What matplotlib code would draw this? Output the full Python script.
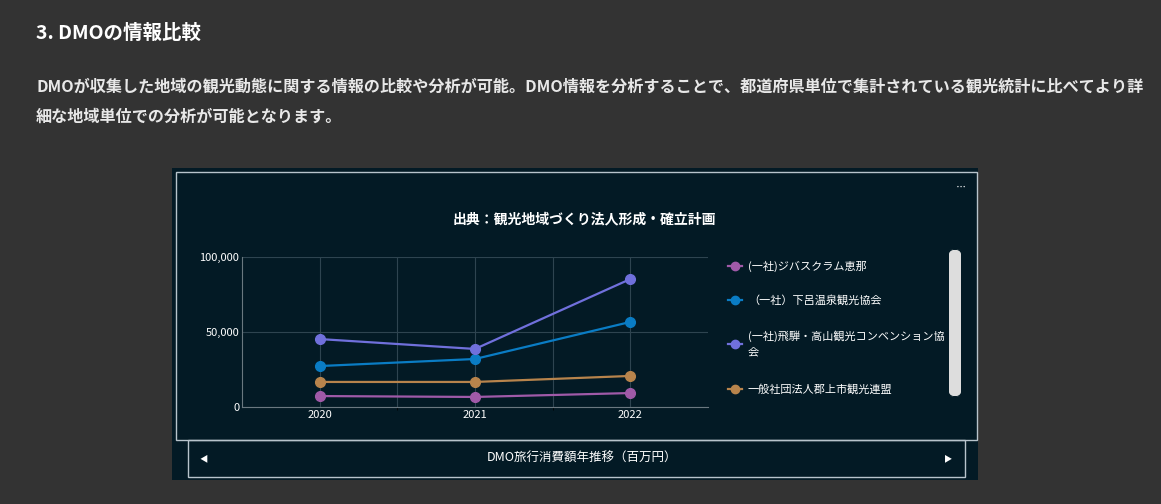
import matplotlib.pyplot as plt
from matplotlib.patches import Rectangle, FancyBboxPatch

plt.rcParams["font.family"] = ["Noto Sans CJK JP", "DejaVu Sans"]

years = ["2020", "2021", "2022"]
series_names = ["(一社)ジバスクラム恵那", "（一社）下呂温泉観光協会",
                "(一社)飛騨・高山観光コンベンション協\n会", "一般社団法人郡上市観光連盟"]
ena = [7300, 6700, 9300]
gero = [27300, 32000, 56700]
takayama = [45300, 38700, 85300]
gujo = [16700, 16700, 20700]
colors = ["#a05aa8", "#0a7cc4", "#7070dc", "#b8844c"]
yticks = [0, 50000, 100000]

W, H = 1161, 504
fig = plt.figure(figsize=(W / 100, H / 100), dpi=100)
fig.patch.set_facecolor("#333333")


def px(x, y, w, h):
    return [x / W, 1 - (y + h) / H, w / W, h / H]


def box(x, y, w, h, **kw):
    fig.patches.append(Rectangle((x / W, 1 - (y + h) / H), w / W, h / H,
                                 transform=fig.transFigure, zorder=-1, **kw))


fig.text(36 / W, 1 - 33 / H, "3. DMOの情報比較", color="white", fontsize=14,
         fontweight="bold", va="center")
fig.text(36 / W, 1 - 87 / H,
         "DMOが収集した地域の観光動態に関する情報の比較や分析が可能。DMO情報を分析することで、都道府県単位で集計されている観光統計に比べてより詳",
         color="#e8e8e8", fontsize=11.6, fontweight="bold", va="center")
fig.text(36 / W, 1 - 117 / H, "細な地域単位での分析が可能となります。",
         color="#e8e8e8", fontsize=11.6, fontweight="bold", va="center")

box(172, 168, 806, 312, facecolor="#031a25", edgecolor="none")
box(176, 172, 801, 268, facecolor="none", edgecolor="#b8c4cc", lw=1)
box(188, 440, 777, 37, facecolor="none", edgecolor="#b8c4cc", lw=1)
fig.text(582 / W, 1 - 458 / H, "DMO旅行消費額年推移（百万円）", color="white",
         fontsize=9, ha="center", va="center")
fig.text(204 / W, 1 - 459 / H, "◀", color="white", fontsize=6, ha="center", va="center")
fig.text(948 / W, 1 - 459 / H, "▶", color="white", fontsize=6, ha="center", va="center")
fig.text(961 / W, 1 - 186 / H, "• • •", color="white", fontsize=4, ha="center", va="center")
fig.text(584 / W, 1 - 219 / H, "出典：観光地域づくり法人形成・確立計画", color="white",
         fontsize=10, fontweight="bold", ha="center", va="center")

# scrollbar
fig.patches.append(FancyBboxPatch((949 / W, 1 - 397 / H), 12 / W, 148 / H,
                                  boxstyle="round,pad=0,rounding_size=0.01",
                                  transform=fig.transFigure, facecolor="#dddddd",
                                  edgecolor="none"))

ax = fig.add_axes(px(242, 257, 466, 150))
ax.set_zorder(5)
ax.set_facecolor("#031a25")
x = range(len(years))
for vals, c in zip([ena, gero, takayama, gujo], colors):
    ax.plot(x, vals, color=c, lw=1.6, marker="o", ms=7)
ax.set_xlim(-0.5, 2.5)
ax.set_ylim(0, 100000)
ax.set_xticks(list(x), years)
ax.set_yticks(yticks, [f"{v:,}" for v in yticks])
ax.set_xticks([0.5, 1.5], minor=True)
ax.tick_params(colors="white", labelsize=8, length=0, pad=2)
ax.grid(True, which="both", color="#2e4450", lw=0.8)
for s in ["top", "right"]:
    ax.spines[s].set_visible(False)
for s in ["left", "bottom"]:
    ax.spines[s].set_color("#6a7880")

leg_y = [266, 300, 344, 389]
for name, c, yy in zip(series_names, colors, leg_y):
    fig.lines.append(plt.Line2D([728 / W, 735 / W, 742 / W], [1 - yy / H] * 3, color=c,
                                lw=1.6, marker="o", ms=6, markevery=[1],
                                transform=fig.transFigure))
    fig.text(748 / W, 1 - yy / H, name, color="white", fontsize=8, va="center",
             linespacing=1.6)

fig.savefig("out.png", dpi=100, facecolor=fig.get_facecolor())
